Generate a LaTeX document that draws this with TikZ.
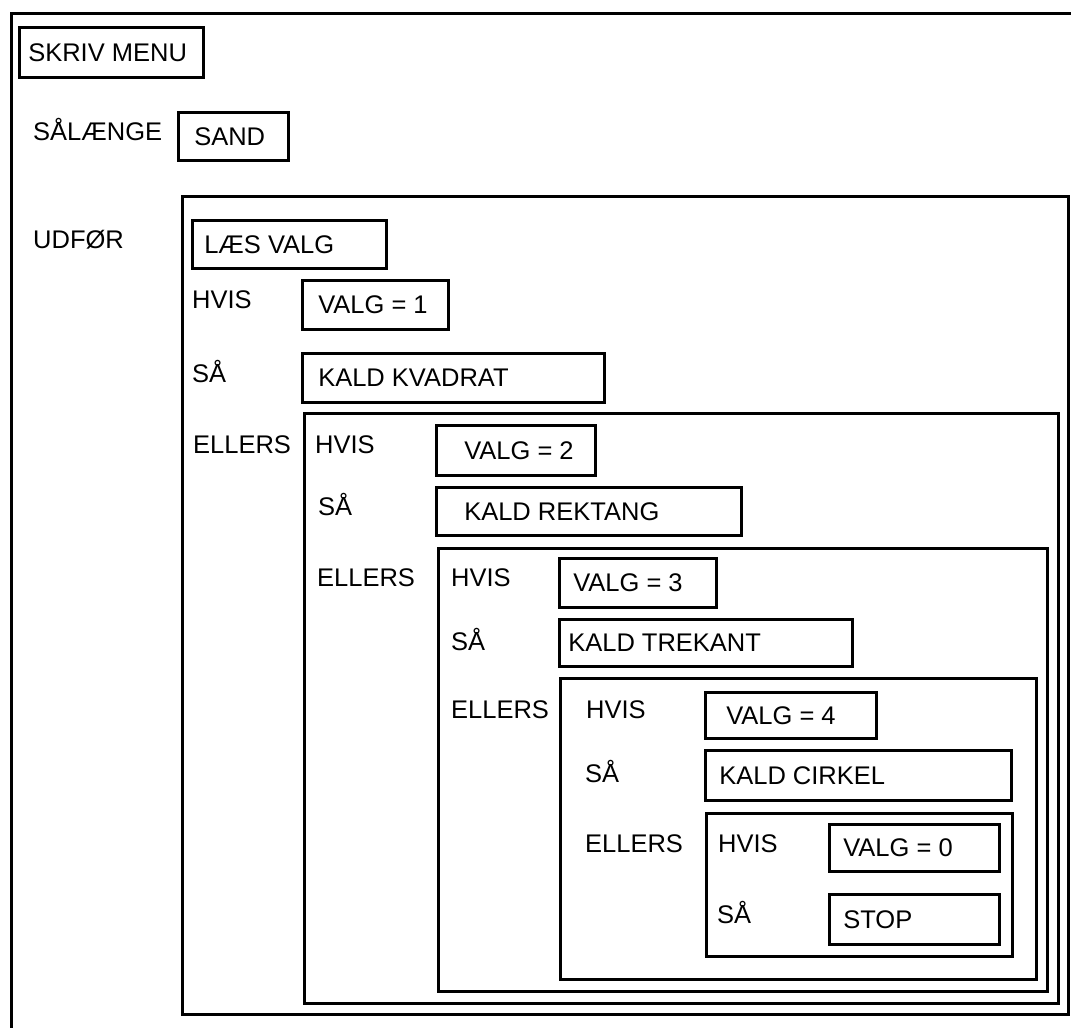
\documentclass[tikz,border=0pt]{standalone}
\usepackage{fontspec}
\setmainfont{Liberation Sans}
\newcommand\bxtxt[3]{\makebox[#1pt][l]{\hspace*{#2pt}#3}}
\tikzset{
  lw/.style={line width=2.6pt},
  txtbox/.style={draw, lw, anchor=north west, inner sep=0pt, text height=18pt, text depth=0pt},
  frame/.style={draw, lw, anchor=north west, inner sep=0pt},
  lbl/.style={anchor=base west, inner sep=0pt},
}
\begin{document}
\begin{tikzpicture}[x=1pt,y=-1pt,font=\fontsize{25.5}{30}\selectfont]
\useasboundingbox[fill=white] (0,0) rectangle (1071,1028);
% outer frame (extends past the page)
\node[frame, minimum width=1100pt, minimum height=1100pt] (outer) at (10,12) {};
% frames
\node[frame, minimum width=886pt, minimum height=818pt] (udfor) at (181,195) {};
\node[frame, minimum width=754pt, minimum height=590pt] (e1) at (303,412) {};
\node[frame, minimum width=609pt, minimum height=443pt] (e2) at (437,547) {};
\node[frame, minimum width=476pt, minimum height=301pt] (e3) at (559,677) {};
\node[frame, minimum width=306pt, minimum height=143pt] (e4) at (705,812) {};
% text boxes
\node[txtbox, minimum height=50pt] (skriv) at (18,26) {\bxtxt{184}{9}{SKRIV MENU}};
\node[txtbox, minimum height=48pt] (sand) at (177,111) {\bxtxt{110}{16}{SAND}};
\node[txtbox, minimum height=48pt] (laes) at (191,219) {\bxtxt{194}{12}{LÆS VALG}};
\node[txtbox, minimum height=49pt] (v1) at (301,279) {\bxtxt{146}{16}{VALG = 1}};
\node[txtbox, minimum height=49pt] (kvad) at (301,352) {\bxtxt{302}{16}{KALD KVADRAT}};
\node[txtbox, minimum height=50pt] (v2) at (435,424) {\bxtxt{159}{28}{VALG = 2}};
\node[txtbox, minimum height=48pt] (rekt) at (435,486) {\bxtxt{305}{28}{KALD REKTANG}};
\node[txtbox, minimum height=49pt] (v3) at (558,557) {\bxtxt{157}{14}{VALG = 3}};
\node[txtbox, minimum height=47pt] (trek) at (558,618) {\bxtxt{293}{9}{KALD TREKANT}};
\node[txtbox, minimum height=46pt] (v4) at (704,691) {\bxtxt{171}{21}{VALG = 4}};
\node[txtbox, minimum height=50pt] (cirk) at (704,749) {\bxtxt{306}{14}{KALD CIRKEL}};
\node[txtbox, minimum height=47pt] (v0) at (828,823) {\bxtxt{170}{14}{VALG = 0}};
\node[txtbox, minimum height=50pt] (stop) at (828,893) {\bxtxt{170}{14}{STOP}};
% labels
\node[lbl] (salaenge) at (33,140) {SÅLÆNGE};
\node[lbl] (udforl) at (33,248) {UDFØR};
\node[lbl] (h0) at (192,308) {HVIS};
\node[lbl] (s0) at (192,382) {SÅ};
\node[lbl] (el0) at (193,453) {ELLERS};
\node[lbl] (h1) at (315,453) {HVIS};
\node[lbl] (s1) at (318,515) {SÅ};
\node[lbl] (el1) at (317,586) {ELLERS};
\node[lbl] (h2) at (451,586) {HVIS};
\node[lbl] (s2) at (451,650) {SÅ};
\node[lbl] (el2) at (451,718) {ELLERS};
\node[lbl] (h3) at (586,718) {HVIS};
\node[lbl] (s3) at (585,782) {SÅ};
\node[lbl] (el3) at (585,852) {ELLERS};
\node[lbl] (h4) at (718,852) {HVIS};
\node[lbl] (s4) at (717,923) {SÅ};
\end{tikzpicture}
\end{document}
